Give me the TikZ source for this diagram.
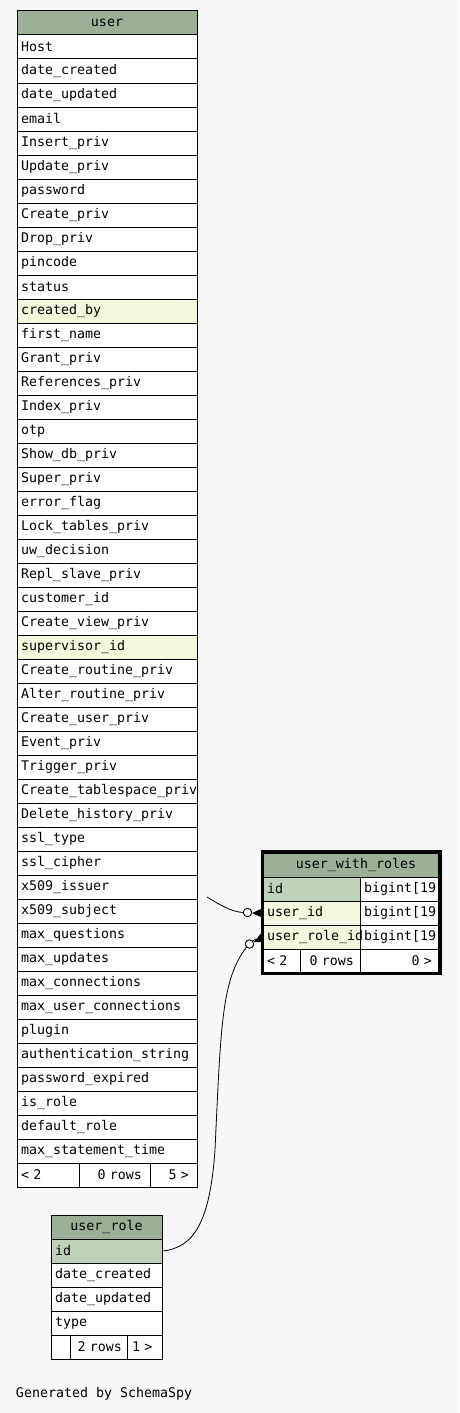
\documentclass[tikz,border=0pt]{standalone}
\usepackage{fontspec}
\newfontfamily\mono[HyphenChar=None]{DejaVu Sans Mono}
\usetikzlibrary{calc}
\definecolor{bg}{HTML}{F7F7F7}
\definecolor{hd}{HTML}{9CAF97}
\definecolor{pk}{HTML}{BFD1B9}
\definecolor{fk}{HTML}{F4F7DE}
\begin{document}
\begin{tikzpicture}[x=1pt,y=-1pt,
  every node/.style={font=\mono\fontsize{13.3}{15}\selectfont, outer sep=0pt, inner ysep=0pt},
  cell/.style={draw=black, line width=1pt, fill=white, anchor=north west, minimum height=24pt, align=left, inner xsep=4pt},
  rcell/.style={cell, align=right},
  head/.style={cell, fill=hd, align=center},
  link/.style={draw=black, line width=0.8pt},
  ring/.style={circle, draw=black, line width=0.9pt, fill=bg, minimum size=8.5pt, inner sep=0pt}]
\useasboundingbox (0,0) rectangle (459,1413);
\fill[bg] (0,0) rectangle (459,1413);

% ---------- user ----------
\node[head, minimum width=180pt] (uh) at (17,11) {user};
\foreach \n [count=\i] in {Host,date\_created,date\_updated,email,Insert\_priv,Update\_priv,password,Create\_priv,Drop\_priv,pincode,status,created\_by,first\_name,Grant\_priv,References\_priv,Index\_priv,otp,Show\_db\_priv,Super\_priv,error\_flag,Lock\_tables\_priv,uw\_decision,Repl\_slave\_priv,customer\_id,Create\_view\_priv,supervisor\_id,Create\_routine\_priv,Alter\_routine\_priv,Create\_user\_priv,Event\_priv,Trigger\_priv,Create\_tablespace\_priv,Delete\_history\_priv,ssl\_type,ssl\_cipher,x509\_issuer,x509\_subject,max\_questions,max\_updates,max\_connections,max\_user\_connections,plugin,authentication\_string,password\_expired,is\_role,default\_role,max\_statement\_time}{
  \def\fc{white}
  \ifnum\i=12 \def\fc{fk}\fi
  \ifnum\i=26 \def\fc{fk}\fi
  \node[cell, fill=\fc, text width=172pt, minimum width=180pt] (u\i) at (17,{35+24*(\i-1)}) {\n};
}
\node[cell, text width=54pt, minimum width=62pt] (uf1) at (17,1163) {< 2};
\node[rcell, inner xsep=8pt, text width=55pt, minimum width=71pt] (uf2) at (79,1163) {0 rows};
\node[rcell, inner xsep=8pt, text width=31pt, minimum width=47pt] (uf3) at (150,1163) {5 >};

% ---------- user_with_roles ----------
\begin{scope}
\clip (262,850) rectangle (440,975);
\node[cell, text width=72pt, minimum width=80pt] (t1) at (360,877) {bigint[19]};
\node[cell, text width=72pt, minimum width=80pt] (t2) at (360,901) {bigint[19]};
\node[cell, text width=72pt, minimum width=80pt] (t3) at (360,925) {bigint[19]};
\end{scope}
\node[head, minimum width=178pt, text width=168pt, inner xsep=5pt] (wh) at (262,853) {\hspace*{10pt}user\_with\_roles};
\node[cell, fill=pk, inner xsep=5pt, text width=88pt, minimum width=98pt] (w1) at (262,877) {id};
\node[cell, fill=fk, inner xsep=5pt, text width=88pt, minimum width=98pt] (w2) at (262,901) {user\_id};
\node[cell, fill=fk, inner xsep=5pt, text width=88pt, minimum width=98pt] (w3) at (262,925) {user\_role\_id};
\node[cell, inner xsep=5pt, text width=28pt, minimum width=38pt] (wf1) at (262,949) {< 2};
\node[rcell, inner xsep=6pt, text width=48pt, minimum width=60pt] (wf2) at (300,949) {0 rows};
\node[rcell, inner xsep=8pt, text width=64pt, minimum width=80pt] (wf3) at (360,949) {0 >};
\draw[line width=3.5pt] (262.5,851.5) rectangle (440,973.5);

% ---------- user_role ----------
\node[head, minimum width=111pt] (rh) at (51,1215) {user\_role};
\node[cell, fill=pk, text width=103pt, minimum width=111pt] (r1) at (51,1239) {id};
\node[cell, text width=103pt, minimum width=111pt] (r2) at (51,1263) {date\_created};
\node[cell, text width=103pt, minimum width=111pt] (r3) at (51,1287) {date\_updated};
\node[cell, text width=103pt, minimum width=111pt] (r4) at (51,1311) {type};
\node[cell, minimum width=19pt] (rf1) at (51,1335) {};
\node[rcell, inner xsep=5pt, text width=47pt, minimum width=57pt] (rf2) at (70,1335) {2 rows};
\node[cell, inner xsep=5pt, text width=25pt, minimum width=35pt] (rf3) at (127,1335) {1 >};

% ---------- connectors ----------
\coordinate (s1) at ($(u36.south east)+(10,-2)$);
\node[ring] (o1) at (247.5,912.5) {};
\draw[link] (s1) .. controls (220,905) and (232,912) .. (o1.west);
\fill ($(w2.west)+(-10,0)$) -- ($(w2.west)+(0,-4.5)$) -- ($(w2.west)+(0,4.5)$) -- cycle;

\node[ring] (o2) at (249.5,944) {};
\draw[link] (r1.east) .. controls (195,1248) and (210,1220) .. (215,1150)
   .. controls (221,1020) and (222,980) .. (o2.south west);
\fill ($(w3.west)+(-8,5)$) -- ($(w3.west)+(0,-5)$) -- ($(w3.west)+(0,5)$) -- cycle;
\draw[link] (o2.north east) -- ($(w3.west)+(-6,2)$);

\node[anchor=west, inner xsep=0pt] (gen) at (16,1394) {Generated by SchemaSpy};
\end{tikzpicture}
\end{document}
